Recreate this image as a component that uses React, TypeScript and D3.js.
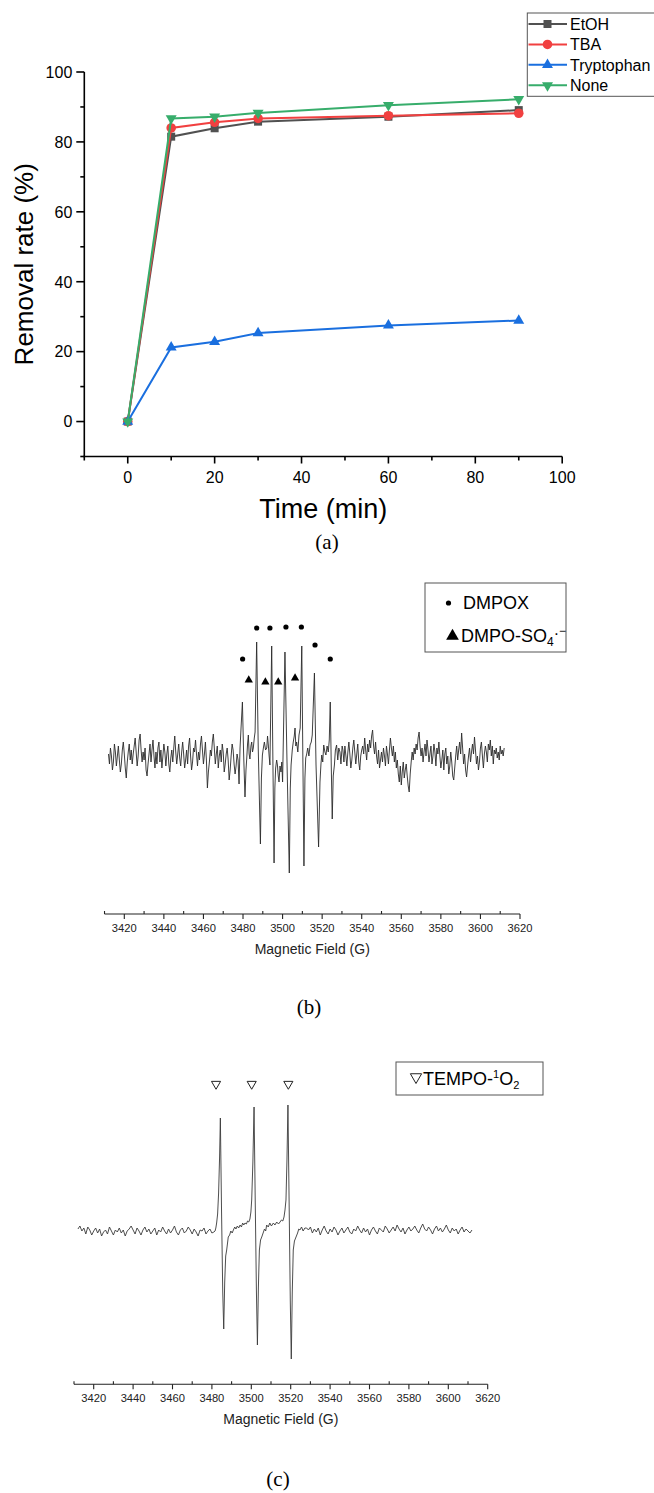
import React from 'react';
import * as d3 from 'd3';

// ---------- Panel (a) data ----------
const times = [0, 10, 20, 30, 60, 90];
const etohRate = [0, 81.5, 83.9, 85.8, 87.2, 89.1];
const tbaRate = [0, 84.0, 85.6, 86.7, 87.5, 88.2];
const tryptophanRate = [0, 21.2, 22.8, 25.3, 27.5, 28.9];
const noneRate = [0, 86.7, 87.2, 88.3, 90.5, 92.2];
const seriesNames = ['EtOH', 'TBA', 'Tryptophan', 'None'];
const seriesColors = ['#515151', '#F14040', '#1A6FDF', '#37AD6B'];
const timeTicks = [0, 20, 40, 60, 80, 100];
const timeMinorTicks = [-10, 10, 30, 50, 70, 90];
const rateTicks = [0, 20, 40, 60, 80, 100];
const rateMinorTicks = [-10, 10, 30, 50, 70, 90];

// ---------- Panel (b) data (EPR, DMPO) ----------
const fieldTicks = [3420, 3440, 3460, 3480, 3500, 3520, 3540, 3560, 3580, 3600, 3620];
const fieldMinorTicks = [3410, 3430, 3450, 3470, 3490, 3510, 3530, 3550, 3570, 3590, 3610];
const bLeftStart = 3412;
const bNoiseStep = 0.5;
const bLeftNoise = [
  4, -6, 10, 2, -12, -4, 14, 6, -8, 2,
  12, -2, -14, -6, 8, 16, 4, -10, -20, -4,
  6, 14, -2, 8, -6, 4, 12, 20, 6, -8,
  2, 18, 24, 8, -4, 6, -2, 10, -12, -18,
  -6, 4, 14, -4, 8, 18, 2, -10, 6, -6,
  10, 16, -4, 8, -10, 2, 14, 6, -8, 4,
  12, -6, -14, 0, 8, -4, 10, 22, 6, -6,
  4, 14, 0, -8, 6, 16, 4, -10, -2, 8,
  -6, 12, 20, 2, -12, -4, 10, 6, 18, 4,
  -8, 6, -2, 14, 22, 8, -6, 4, 16, -2,
  -30, -14, -4, 8, 2, 16, 24, 10, -6, 4,
  12, -10, 2, 8, -4, 14, 6, -14, -6, 4,
  10, -2, -22, -12, 2, 14, 8, -6, -16, -8,
  4, -2, -26];
const bPeaks: [number, number][] = [
  [3478.5, 10], [3479.0, 30], [3479.7, 56], [3480.3, 5], [3481.0, -39], [3481.5, -12], [3481.9, 0],
  [3482.3, 14], [3482.7, 23], [3483.1, 4], [3483.5, -1], [3484.0, 12], [3484.4, 16], [3484.8, 6],
  [3485.2, 10], [3485.7, 20], [3486.1, 26], [3486.9, 116], [3487.7, 10], [3488.8, -86], [3489.3, -20],
  [3489.8, 3], [3490.3, 10], [3490.8, 16], [3491.4, 8], [3492.0, 10], [3492.4, 22], [3492.8, 13],
  [3493.2, 2], [3493.6, -7], [3494.5, 112], [3495.0, 16], [3495.7, -105], [3496.1, -30], [3496.5, -10],
  [3497.0, -2], [3497.4, -7], [3497.8, -18], [3498.2, -24], [3498.7, -8], [3499.2, -14], [3499.6, -4],
  [3500.0, -24], [3501.2, 106], [3502.2, 0], [3503.4, -115], [3503.9, -30], [3504.3, -7], [3504.9, 8],
  [3505.4, 16], [3505.9, 22], [3506.3, 30], [3506.7, 12], [3507.1, 16], [3507.7, 6], [3508.3, 23],
  [3508.9, 30], [3509.7, 112], [3510.2, 10], [3510.8, -108], [3511.3, -20], [3511.7, 0], [3512.2, 4],
  [3512.7, 10], [3513.3, 2], [3513.9, 13], [3514.5, 16], [3515.0, 23], [3516.1, 85], [3516.9, -7],
  [3518.2, -89], [3518.9, -24], [3519.4, -6], [3519.8, 3], [3520.3, -4], [3520.8, 13], [3521.4, 6],
  [3521.9, 3], [3522.5, 12], [3523.1, 6], [3523.6, 18], [3524.1, 56], [3524.6, -7], [3525.1, -61],
  [3525.6, -18], [3526.2, -7], [3526.7, 8], [3527.3, 13], [3527.9, -2], [3528.4, 10], [3529.0, 6],
  [3529.5, -6], [3530.1, 12]];
const bRightStart = 3530.5;
const bRightNoise = [
  8, -4, 12, 2, -8, 6, 16, 4, -10, -2,
  10, 18, 6, -6, 4, 14, -4, -12, 2, 8,
  12, 4, 20, 8, -2, 14, 6, 18, 10, 22,
  28, 12, 4, 16, 2, -6, 8, -10, -2, 6,
  -4, 10, 2, -8, 12, 4, -6, 8, 20, 10,
  2, 12, -4, 6, -10, -2, -16, -24, -8, -27,
  -14, -4, -20, -12, -6, -18, -28, -34, -16, -4,
  6, -2, 10, 4, 14, 8, 20, 26, 12, 2,
  10, -4, 6, 14, 2, 18, 8, -4, 4, 12,
  -6, 2, 14, 6, -8, 10, 4, 16, 2, -10,
  -2, 8, -12, 4, 10, -6, 2, -16, -8, 6,
  -4, -18, -22, -10, 2, 12, -2, 8, 16, 4,
  25, 10, -6, 4, -12, -19, -8, 2, 10, -4,
  6, 14, 4, 21, 8, -6, 2, -12, -4, 10,
  16, 2, -10, 4, 12, 6, -4, 14, 8, 18,
  2, 12, -6, 8, 4, 10, 0, 6, -2, 12,
  4, 8, 2, 10];
const dmpoxFields = [3479.8, 3486.9, 3493.6, 3501.7, 3509.5, 3516.4, 3524.1];
const dmpoxHeights = [99, 130, 130, 131, 131, 113, 99];
const so4Fields = [3482.9, 3491.3, 3497.8, 3506.3];
const so4Heights = [78, 76, 76, 80];

// ---------- Panel (c) data (EPR, TEMPO) ----------
const cLeftStart = 3412;
const cNoiseStep = 1;
const cLeftNoise = [3, 6, 1, 4, -2, 5, 2, -3, 1, 4, -1, 3, -4, 0, 2, -2, 5, 1, -3, 2,
  0, 4, -1, 2, -4, 1, 3, 6, 2, -2, 4, 1, -3, 2, 5, 0, 3, -2, 1, 4,
  -3, 2, 0, 5, 1, -2, 3, -1, 2, 6, 0, -3, 2, 4, -1, 1, 5, 2, -2, 3,
  0, -4, 2, 1, 4, -2, 1, 3, -1, 0];
const cPeaks: [number, number][] = [
  [3481.6, 1], [3482.0, 4], [3482.4, 9], [3482.9, 18], [3483.4, 39], [3483.9, 75], [3484.3, 114],
  [3484.9, 20], [3485.5, -60], [3486.0, -97], [3486.5, -50], [3487.0, -24], [3487.5, -18], [3488.0, -10],
  [3488.3, -5], [3489.0, -3], [3489.6, 1], [3490.3, -1], [3490.9, 2], [3491.6, 5], [3492.2, 3],
  [3492.9, 6], [3493.6, 4], [3494.3, 7], [3495.0, 5], [3495.6, 9], [3496.2, 7], [3496.8, 9],
  [3497.5, 8], [3498.1, 11], [3498.7, 10], [3499.3, 13], [3499.8, 20], [3500.2, 32], [3500.8, 70],
  [3501.4, 125], [3502.0, 30], [3502.6, -60], [3503.1, -113], [3503.6, -55], [3504.1, -18], [3504.7, -8],
  [3505.3, -5], [3506.0, -1], [3506.7, 3], [3507.3, 1], [3507.8, 7], [3508.6, 5], [3509.4, 9],
  [3510.2, 6], [3511.2, 9], [3512.0, 7], [3512.9, 10], [3513.8, 8], [3514.6, 10], [3515.3, 12],
  [3516.0, 11], [3516.6, 15], [3517.1, 22], [3517.6, 32], [3518.1, 72], [3518.6, 127], [3519.2, 30],
  [3519.8, -70], [3520.3, -127], [3520.8, -60], [3521.3, -18], [3521.9, -9], [3522.7, -5], [3523.5, -1],
  [3524.1, 3], [3524.7, 2], [3525.5, 5], [3526.3, 1], [3527.2, 4], [3528.1, 4]];
const cRightStart = 3529;
const cRightNoise = [2, 5, -1, 3, 0, 4, -3, 2, 6, 1, -2, 3, 0, 5, 2, -3, 1, 4, -1, 2,
  5, 0, -2, 3, 1, 6, 2, -1, 4, 0, 3, -3, 2, 5, 1, -2, 4, 2, 0, 6,
  3, -1, 2, 5, 1, 7, 3, 0, 4, -2, 2, 5, 1, 3, 6, 2, -1, 4, 8, 3,
  1, 5, 2, -2, 3, 6, 1, 4, 0, 3, 7, 2, -1, 4, 1, 3, -2, 2, 5, 0,
  3, 1, -1, 2];
const tempoFields = [3482.1, 3500.2, 3518.8];
const tempoHeight = 148;

const SANS = '"Liberation Sans", Arial, Helvetica, sans-serif';
const SERIF = '"Liberation Serif", "Times New Roman", serif';

function withField(start: number, step: number, vals: number[]): [number, number][] {
  return vals.map((v, i) => [start + i * step, v] as [number, number]);
}

function PanelA() {
  const x = d3.scaleLinear().domain([-10, 100]).range([84.3, 562.2]);
  const y = d3.scaleLinear().domain([-10, 100]).range([456.5, 72]);
  const series = [etohRate, tbaRate, tryptophanRate, noneRate];
  const symbols = [d3.symbolSquare, d3.symbolCircle, d3.symbolTriangle, d3.symbolTriangle];
  const sizes = [64, 72, 52, 52];
  const rot = [0, 0, 0, 180];
  const line = d3.line<number>().x((_, i) => x(times[i])).y((d) => y(d));
  const legendY = d3.scaleLinear().domain([0, 3]).range([24, 85.3]);
  return (
    <g>
      <line x1={x(-10) - 1} x2={x(100)} y1={y(-10)} y2={y(-10)} stroke="#000" strokeWidth={1.6} />
      <line x1={x(-10)} x2={x(-10)} y1={y(100)} y2={y(-10)} stroke="#000" strokeWidth={1.6} />
      {timeTicks.map((t) => (
        <g key={'xt' + t}>
          <line x1={x(t)} x2={x(t)} y1={y(-10)} y2={y(-10) + 7} stroke="#000" strokeWidth={1.6} />
          <text x={x(t)} y={y(-10) + 26} textAnchor="middle" fontSize={16} fontFamily={SANS}>{t}</text>
        </g>
      ))}
      {timeMinorTicks.map((t) => (
        <line key={'xm' + t} x1={x(t)} x2={x(t)} y1={y(-10)} y2={y(-10) + 4} stroke="#000" strokeWidth={1.6} />
      ))}
      {rateTicks.map((t) => (
        <g key={'yt' + t}>
          <line x1={x(-10) - 8} x2={x(-10)} y1={y(t)} y2={y(t)} stroke="#000" strokeWidth={1.6} />
          <text x={x(-10) - 12} y={y(t) + 5.8} textAnchor="end" fontSize={16} fontFamily={SANS}>{t}</text>
        </g>
      ))}
      {rateMinorTicks.map((t) => (
        <line key={'ym' + t} x1={x(-10) - 4} x2={x(-10)} y1={y(t)} y2={y(t)} stroke="#000" strokeWidth={1.6} />
      ))}
      <text x={x(45)} y={518} textAnchor="middle" fontSize={27} fontFamily={SANS}>Time (min)</text>
      <text transform={`translate(33,${y(45)}) rotate(-90)`} textAnchor="middle" fontSize={26} fontFamily={SANS}>Removal rate (%)</text>
      {series.map((s, k) => (
        <g key={'s' + k}>
          <path d={line(s) || ''} fill="none" stroke={seriesColors[k]} strokeWidth={2} />
          {s.map((v, i) => (
            <path key={i} d={d3.symbol(symbols[k], sizes[k])() || ''}
              transform={`translate(${x(times[i])},${y(v)}) rotate(${rot[k]})`} fill={seriesColors[k]} />
          ))}
        </g>
      ))}
      <rect x={527.3} y={13} width={140} height={83.3} fill="#fff" stroke="#555" strokeWidth={1} />
      {seriesNames.map((n, k) => (
        <g key={'lg' + k}>
          <line x1={528.5} x2={567} y1={legendY(k)} y2={legendY(k)} stroke={seriesColors[k]} strokeWidth={2} />
          <path d={d3.symbol(symbols[k], sizes[k])() || ''}
            transform={`translate(547.5,${legendY(k)}) rotate(${rot[k]})`} fill={seriesColors[k]} />
          <text x={570} y={legendY(k) + 5.8} fontSize={16} fontFamily={SANS}>{n}</text>
        </g>
      ))}
      <text x={327} y={549} textAnchor="middle" fontSize={21} fontFamily={SERIF}>(a)</text>
    </g>
  );
}

function FieldAxis({ x, yAxis, label }: { x: d3.ScaleLinear<number, number>; yAxis: number; label: string }) {
  return (
    <g>
      <line x1={x(3410)} x2={x(3620)} y1={yAxis} y2={yAxis} stroke="#222" strokeWidth={1.1} />
      {fieldTicks.map((t) => (
        <g key={'f' + t}>
          <line x1={x(t)} x2={x(t)} y1={yAxis} y2={yAxis + 5} stroke="#222" strokeWidth={1.1} />
          <text x={x(t)} y={yAxis + 18} textAnchor="middle" fontSize={11.2} fill="#222" fontFamily={SANS}>{t}</text>
        </g>
      ))}
      {fieldMinorTicks.map((t) => (
        <line key={'fm' + t} x1={x(t)} x2={x(t)} y1={yAxis - 3} y2={yAxis} stroke="#222" strokeWidth={1.1} />
      ))}
      <text x={x(3515)} y={yAxis + 40} textAnchor="middle" fontSize={14} fill="#222" fontFamily={SANS}>{label}</text>
    </g>
  );
}

function PanelB() {
  const x = d3.scaleLinear().domain([3420, 3620]).range([124.3, 520]);
  const y = d3.scaleLinear().domain([-120, 140]).range([878, 618]);
  const data: [number, number][] = [
    ...withField(bLeftStart, bNoiseStep, bLeftNoise), ...bPeaks, ...withField(bRightStart, bNoiseStep, bRightNoise)];
  const line = d3.line<[number, number]>().x((d) => x(d[0])).y((d) => y(d[1]));
  const tri = d3.symbol(d3.symbolTriangle, 30)() || '';
  const legTri = d3.symbol(d3.symbolTriangle, 70)() || '';
  return (
    <g>
      <path d={line(data) || ''} fill="none" stroke="#2a2a2a" strokeWidth={0.9} />
      {dmpoxFields.map((f, i) => (
        <circle key={'d' + i} cx={x(f)} cy={y(dmpoxHeights[i])} r={2.6} fill="#000" />
      ))}
      {so4Fields.map((f, i) => (
        <path key={'t' + i} d={tri} transform={`translate(${x(f)},${y(so4Heights[i])})`} fill="#000" />
      ))}
      <FieldAxis x={x} yAxis={914} label="Magnetic Field (G)" />
      <rect x={425} y={583} width={141} height={69} fill="#fff" stroke="#555" strokeWidth={1} />
      <circle cx={448.5} cy={603} r={2.6} fill="#000" />
      <text x={463} y={608.5} fontSize={18} fontFamily={SANS}>DMPOX</text>
      <path d={legTri} transform="translate(452.5,636)" fill="#000" />
      <text x={461} y={641.5} fontSize={18} fontFamily={SANS}>
        DMPO-SO<tspan fontSize={12} dy={4}>4</tspan><tspan fontSize={16} dy={-7}>·</tspan><tspan fontSize={12} dy={-4}>−</tspan>
      </text>
      <text x={309} y={1014} textAnchor="middle" fontSize={21} fontFamily={SERIF}>(b)</text>
    </g>
  );
}

function PanelC() {
  const x = d3.scaleLinear().domain([3420, 3620]).range([93.7, 487.7]);
  const y = d3.scaleLinear().domain([-140, 150]).range([1372, 1082]);
  const data: [number, number][] = [
    ...withField(cLeftStart, cNoiseStep, cLeftNoise), ...cPeaks, ...withField(cRightStart, cNoiseStep, cRightNoise)];
  const line = d3.line<[number, number]>().x((d) => x(d[0])).y((d) => y(d[1]));
  const tri = d3.symbol(d3.symbolTriangle, 36)() || '';
  const legTri = d3.symbol(d3.symbolTriangle, 55)() || '';
  return (
    <g>
      <path d={line(data) || ''} fill="none" stroke="#3a3a3a" strokeWidth={0.9} />
      {tempoFields.map((f, i) => (
        <path key={'o' + i} d={tri} transform={`translate(${x(f)},${y(tempoHeight)}) rotate(180)`} fill="#fff" stroke="#222" strokeWidth={1} />
      ))}
      <FieldAxis x={x} yAxis={1384.3} label="Magnetic Field (G)" />
      <rect x={396} y={1062} width={147} height={33} fill="#fff" stroke="#555" strokeWidth={1} />
      <path d={legTri} transform="translate(416,1077) rotate(180)" fill="#fff" stroke="#222" strokeWidth={1} />
      <text x={423} y={1084.5} fontSize={18} fontFamily={SANS}>
        TEMPO-<tspan fontSize={11} dy={-7}>1</tspan><tspan dy={7}>O</tspan><tspan fontSize={11} dy={4}>2</tspan>
      </text>
      <text x={278} y={1486} textAnchor="middle" fontSize={21} fontFamily={SERIF}>(c)</text>
    </g>
  );
}

export default function App() {
  return (
    <svg width={654} height={1493} viewBox="0 0 654 1493"
      style={{ position: 'absolute', left: 0, top: 0, background: '#fff' }}>
      <rect x={0} y={0} width={654} height={1493} fill="#fff" />
      <PanelA />
      <PanelB />
      <PanelC />
    </svg>
  );
}
